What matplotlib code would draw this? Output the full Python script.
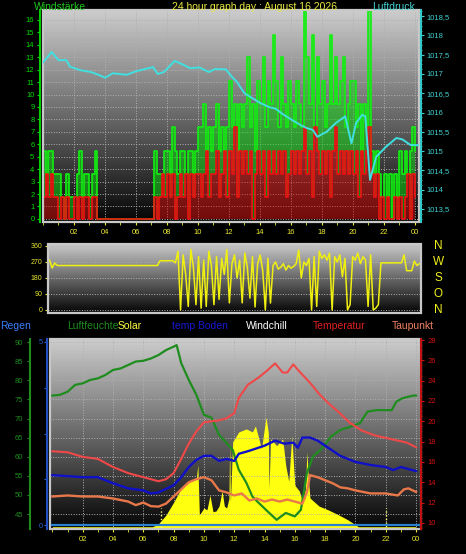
import numpy as np
import matplotlib
matplotlib.use('Agg')
import matplotlib.pyplot as plt
import matplotlib.transforms as mtransforms
from matplotlib.patches import Rectangle
from matplotlib.ticker import MultipleLocator

plt.rcParams['font.family'] = ['Liberation Sans', 'DejaVu Sans']

## Wind, 10 minute samples (km/h)
wind_hours = np.linspace(0, 24, 145)
gust = [5.5, 3.6, 5.5, 5.5, 3.6, 3.6,
        3.6, 1.8, 0, 3.6, 1.8, 1.8,
        1.8, 3.6, 5.5, 1.8, 3.6, 3.6,
        1.8, 3.6, 5.5, 0, 0, 0,
        0, 0, 0, 0, 0, 0,
        0, 0, 0, 0, 0, 0,
        0, 0, 0, 0, 0, 0,
        0, 5.5, 3.6, 3.6, 3.6, 5.5,
        5.5, 3.6, 7.4, 5.5, 3.6, 5.5,
        5.5, 3.6, 5.5, 5.5, 3.6, 5.5,
        7.4, 7.4, 9.2, 5.5, 7.4, 5.5,
        7.4, 9.2, 5.5, 7.4, 5.5, 7.4,
        11.1, 7.4, 9.2, 5.5, 9.2, 7.4,
        9.2, 13.0, 7.4, 9.2, 5.5, 11.1,
        9.2, 13.0, 7.4, 11.1, 9.2, 14.8,
        11.1, 7.4, 13.0, 9.2, 7.4, 11.1,
        9.2, 7.4, 11.1, 9.2, 7.4, 16.7,
        13.0, 9.2, 14.8, 7.4, 13.0, 9.2,
        11.1, 7.4, 9.2, 14.8, 9.2, 13.0,
        9.2, 11.1, 13.0, 7.4, 9.2, 11.1,
        11.1, 7.4, 9.2, 5.5, 9.2, 7.4,
        16.7, 5.5, 3.6, 5.5, 3.6, 1.8,
        3.6, 1.8, 3.6, 0, 3.6, 1.8,
        5.5, 3.6, 5.5, 3.6, 5.5, 7.4,
        5.5]
avg = [1.8, 3.6, 1.8, 3.6, 1.8, 1.8,
       0, 1.8, 0, 1.8, 0, 0,
       1.8, 0, 1.8, 0, 1.8, 1.8,
       0, 1.8, 1.8, 0, 0, 0,
       0, 0, 0, 0, 0, 0,
       0, 0, 0, 0, 0, 0,
       0, 0, 0, 0, 0, 0,
       0, 1.8, 0, 1.8, 3.6, 1.8,
       3.6, 1.8, 3.6, 0, 1.8, 3.6,
       1.8, 3.6, 0, 3.6, 1.8, 3.6,
       3.6, 1.8, 3.6, 5.5, 1.8, 3.6,
       3.6, 5.5, 1.8, 3.6, 5.5, 1.8,
       5.5, 3.6, 7.4, 1.8, 5.5, 3.6,
       5.5, 3.6, 5.5, 0, 3.6, 5.5,
       3.6, 5.5, 1.8, 5.5, 3.6, 5.5,
       3.6, 5.5, 3.6, 5.5, 1.8, 3.6,
       5.5, 3.6, 5.5, 3.6, 5.5, 7.4,
       3.6, 5.5, 1.8, 7.4, 5.5, 3.6,
       5.5, 3.6, 5.5, 1.8, 5.5, 7.4,
       3.6, 5.5, 3.6, 5.5, 3.6, 5.5,
       3.6, 5.5, 1.8, 5.5, 3.6, 5.5,
       7.4, 3.6, 1.8, 3.6, 0, 1.8,
       0, 1.8, 0, 0, 1.8, 0,
       1.8, 0, 1.8, 3.6, 0, 3.6,
       1.8]

## Pressure (hPa)
press_hours = [0, 0.56, 1.0, 1.5, 1.74, 2.4, 3.1, 3.7, 4.0, 4.5, 5.4, 6.0,
               7.1, 7.4, 7.8, 8.5, 9.05, 9.5, 10.1, 10.7, 11.1, 11.8, 12.2,
               12.5, 13.0, 13.4, 14.0, 14.6, 15.0, 15.5, 16.1, 16.6, 17.0,
               17.4, 17.7, 18.3, 18.9, 19.5, 19.9, 20.2, 20.6, 20.8, 21.1,
               21.5, 22.1, 22.8, 23.2, 23.7, 24.2]
pressure = [1017.3, 1017.57, 1017.36, 1017.36, 1017.19, 1017.1, 1017.05,
            1016.96, 1016.9, 1017.02, 1016.98, 1017.07, 1017.18, 1017.0,
            1017.05, 1017.34, 1017.24, 1017.15, 1017.17, 1017.05, 1017.13,
            1017.12, 1016.92, 1016.8, 1016.5, 1016.4, 1016.25, 1016.14,
            1016.1, 1015.95, 1015.8, 1015.68, 1015.6, 1015.55, 1015.37,
            1015.5, 1015.73, 1015.9, 1015.2, 1015.73, 1015.94, 1015.9,
            1014.25, 1014.85, 1015.1, 1015.34, 1015.3, 1015.16, 1015.15]

## Wind direction, 10 minute samples (degrees)
direction = [280, 236, 264, 250, 250, 250,
             250, 250, 250, 250, 250, 250,
             250, 250, 250, 250, 250, 250,
             250, 250, 250, 250, 250, 250,
             250, 250, 250, 250, 250, 250,
             250, 250, 250, 250, 250, 250,
             250, 250, 250, 250, 250, 250,
             250, 277, 277, 277, 277, 277,
             277, 265, 330, 0, 310, 200,
             20, 340, 240, 30, 300, 10,
             280, 20, 330, 250, 30, 300,
             60, 290, 200, 340, 40, 260,
             310, 180, 280, 40, 320, 240,
             67, 300, 17, 260, 310, 220,
             0, 290, 39, 250, 270, 230,
             240, 260, 225, 250, 235, 245,
             260, 337, 180, 270, 250, 290,
             0, 300, 20, 330, 290, 310,
             280, 320, 0, 300, 270, 310,
             187, 290, 0, 30, 300, 280,
             320, 260, 300, 280, 20, 310,
             0, 10, 30, 265, 265, 265,
             265, 265, 265, 265, 265, 265,
             310, 221, 221, 221, 275, 250,
             260]
dir_labels = ['N', 'W', 'S', 'O', 'N']

## Temperatures (deg C)
temp_hours = [0, 1, 2, 3, 4, 5, 6, 7, 7.5, 8, 8.5, 9, 9.5, 10, 10.5, 11,
              11.5, 12, 12.3, 12.9, 13.6, 14.1, 14.7, 15.2, 15.5, 15.9,
              16.3, 17.0, 17.6, 18.2, 18.9, 19.6, 20.4, 21.3, 22.2, 22.8,
              23.4, 24]
temperature = [17.05, 16.95, 16.5, 16.3, 15.5, 14.9, 14.5, 14.1, 14.3, 14.9,
               16.3, 17.8, 19.0, 19.9, 20.0, 20.1, 20.3, 20.8, 22.3, 23.6,
               24.3, 24.9, 25.7, 24.8, 24.8, 25.6, 24.9, 23.8, 22.7, 21.8,
               20.9, 19.9, 19.1, 18.6, 18.3, 18.1, 17.9, 17.45]
dew_hours = [0, 1, 2, 3, 4, 5, 5.5, 6, 6.5, 7, 7.5, 8, 8.5, 9, 9.5, 10, 10.5,
             11, 11.5, 12, 12.5, 13, 13.5, 14, 14.5, 15, 15.5, 16, 16.5,
             16.8, 17, 17.5, 18, 18.5, 19, 19.5, 20, 21, 22, 22.8, 23.2,
             23.5, 24]
dewpoint = [12.6, 12.7, 12.6, 12.6, 12.4, 12.1, 11.75, 12.0, 11.65, 11.6,
            11.9, 12.6, 13.3, 14.0, 14.3, 14.5, 14.2, 13.2, 13.0, 12.7, 12.9,
            12.2, 12.4, 12.1, 12.3, 12.1, 12.3, 12.1, 11.9, 13.0, 14.7, 14.5,
            14.2, 13.9, 13.5, 13.4, 13.2, 12.9, 12.9, 12.7, 13.3, 13.4, 13.05]
soil_hours = [0, 1, 2, 3, 4, 5, 6, 6.5, 7, 8, 8.5, 9, 9.5, 10, 10.5, 11,
              11.5, 12, 12.3, 13, 14, 14.7, 15.3, 15.9, 16.2, 16.5, 17,
              17.5, 18, 19, 20, 21, 22, 22.5, 23, 24]
soil_temp = [14.7, 14.6, 14.5, 14.5, 13.9, 13.4, 13.2, 12.9, 13.0, 13.7, 14.5,
             15.5, 16.2, 16.6, 16.6, 16.1, 16.3, 16.1, 16.8, 17.1, 17.6, 18.1,
             17.8, 17.9, 17.4, 18.4, 18.4, 18.1, 17.6, 16.6, 16.0, 15.7, 15.5,
             15.2, 15.5, 15.1]

## Humidity (%)
hum_hours = [0, 0.5, 1, 1.5, 2, 2.5, 3, 3.5, 4, 4.5, 5, 5.5, 6, 6.5, 7, 7.5,
             8, 8.2, 8.5, 9, 9.5, 10, 10.5, 11, 11.5, 11.9, 12.3, 12.8, 13.2,
             13.6, 14.1, 14.8, 15.4, 16, 16.4, 16.8, 17.2, 17.7, 18.4, 19,
             19.7, 20.3, 20.8, 21.4, 22.4, 22.7, 23.1, 23.8, 24]
humidity = [76.0, 76.2, 77.0, 78.8, 79.2, 80.1, 80.5, 81.4, 82.7, 83.1, 84.0,
            84.9, 85.1, 85.7, 86.6, 87.9, 88.8, 89.2, 84.5, 80.1, 76.2, 71.0,
            70.2, 65.7, 63.6, 61.8, 56.6, 53.2, 49.6, 48.0, 46.1, 43.5, 45.3,
            44.4, 46.1, 55.8, 60.1, 61.8, 65.3, 67.0, 67.9, 68.8, 71.8, 72.2,
            72.2, 74.4, 75.3, 76.0, 76.0]

## Solar radiation (W/m2) and rain (mm)
solar_hours = [0, 6.6, 7.0, 7.5, 8.0, 8.4, 8.8, 9.1, 9.5, 9.6, 9.7, 10.0,
               10.2, 10.4, 10.6, 10.8, 11.0, 11.2, 11.35, 11.5, 11.65, 11.7,
               11.75, 11.9, 12.3, 12.8, 13.2, 13.4, 13.8, 14.1, 14.25, 14.3,
               14.4, 14.8, 15.2, 15.4, 15.6, 15.8, 16.0, 16.3, 16.5, 16.7,
               16.8, 16.9, 17.0, 17.6, 18.2, 18.9, 19.5, 20.2, 24]
solar = [0, 0, 15, 63, 130, 190, 225, 242, 258, 330, 63, 100, 90, 168, 80,
         84, 110, 190, 110, 100, 150, 453, 130, 453, 505, 521, 505, 537, 416,
         584, 500, 205, 468, 432, 468, 326, 242, 484, 221, 190, 137, 200, 400,
         250, 153, 110, 90, 63, 37, 0, 0]
sun_marks = [7.2, 22.0]
rain_hours = [0, 24.3]
rain = [0, 0]

hour_labels = ['02', '04', '06', '08', '10', '12', '14', '16', '18', '20',
               '22', '00']

W, H = 466, 554
PT = 72.0 / 100  # points per pixel
YELLOW = '#e8e830'

fig = plt.figure(figsize=(W / 100, H / 100), dpi=100, facecolor='black')


def px_rect(l, t, r, b):
  return [l / W, 1 - b / H, (r - l) / W, (b - t) / H]


def add_panel(rect, top=0.80, bottom=0.02):
  bg = fig.add_axes(rect)
  bg.axis('off')
  grad = np.linspace(top, bottom, 256).reshape(-1, 1)
  bg.imshow(grad, cmap='gray', vmin=0, vmax=1, aspect='auto',
            extent=(0, 1, 0, 1), interpolation='bilinear')
  ax = fig.add_axes(rect)
  ax.set_facecolor('none')
  for s in ax.spines.values():
    s.set_visible(False)
  ax.add_patch(Rectangle((0, 0), 1, 1, transform=ax.transAxes, fill=False,
                         ec='#c8c8c8', lw=1.6, clip_on=False, zorder=20))
  return ax


def clean_twin(ax, side, color, offset_px):
  for s in ax.spines.values():
    s.set_visible(False)
  ax.spines[side].set_visible(True)
  ax.spines[side].set_color(color)
  ax.spines[side].set_linewidth(1.5)
  ax.spines[side].set_position(('outward', offset_px * PT))


def hour_axis(ax):
  ax.set_xticks(range(2, 25, 2))
  ax.set_xticklabels(hour_labels)
  ax.xaxis.set_minor_locator(MultipleLocator(1))
  ax.tick_params(axis='x', which='both', colors=YELLOW, labelsize=5.5,
                 length=2, pad=3)


## Top panel: wind speed and pressure
ax1 = add_panel(px_rect(43, 10, 419, 222))
ax1.fill_between(wind_hours, avg, gust, step='post', color='#10e010',
                 alpha=0.5, lw=0, zorder=2)
ax1.fill_between(wind_hours, 0, avg, step='post', color='#e01010',
                 alpha=0.5, lw=0, zorder=3)
ax1.step(wind_hours, gust, where='post', color='#10f010', lw=1.2, zorder=3)
ax1.step(wind_hours, avg, where='post', color='#f01010', lw=1.2, zorder=4)
ax1.set_xlim(0, 24.26)
ax1.set_ylim(-0.25, 16.8)
ax1.set_yticks(range(0, 17))
ax1.yaxis.set_minor_locator(MultipleLocator(0.25))
clean_twin(ax1, 'left', '#00cc00', 3)
ax1.tick_params(axis='y', which='both', colors='#00dd00', labelsize=5.5,
                length=2, pad=2)
ax1.tick_params(axis='y', which='minor', length=1)
hour_axis(ax1)
ax1.grid(True, color='#b0b0b0', ls=':', lw=0.7)

ax1b = ax1.twinx()
ax1b.plot(press_hours, pressure, color='#40e0e0', lw=1.4, zorder=5)
ax1b.set_ylim(1013.16, 1018.66)
press_ticks = np.arange(1013.5, 1018.6, 0.5)
ax1b.set_yticks(press_ticks)
ax1b.set_yticklabels([('%g' % v).replace('.', ',') for v in press_ticks])
ax1b.yaxis.set_minor_locator(MultipleLocator(0.125))
clean_twin(ax1b, 'right', '#30c8c8', 2)
ax1b.tick_params(axis='y', which='both', colors='#40d0d0', labelsize=5.5,
                 length=2, pad=2)
ax1b.tick_params(axis='y', which='minor', length=1)

fig.text(34 / W, 1 - 7 / H, 'Windstärke', color='#20cc20', fontsize=7.5,
         va='center', ha='left')
fig.text(172 / W, 1 - 7 / H, '24 hour graph day : August 16 2026',
         color='#e8e840', fontsize=7.5, va='center', ha='left')
fig.text(372 / W, 1 - 7 / H, 'Luftdruck', color='#40d0d0', fontsize=7.5,
         va='center', ha='left')

## Middle panel: wind direction
ax2 = add_panel(px_rect(48, 244, 421, 313))
ax2.plot(wind_hours, direction, color='#f0f010', lw=1.1)
ax2.set_xlim(-0.1, 24.1)
ax2.set_ylim(-17, 371)
ax2.set_xticks([])
ax2.set_yticks([0, 90, 180, 270, 360])
ax2.yaxis.set_minor_locator(MultipleLocator(30))
ax2.tick_params(axis='y', which='both', colors=YELLOW, labelsize=5,
                length=2, pad=2)
ax2.tick_params(axis='y', which='minor', length=1)
ax2.grid(True, axis='y', color='#b0b0b0', ls=':', lw=0.7)
trans = mtransforms.blended_transform_factory(ax2.transAxes, ax2.transData)
for v, lab in zip([360, 270, 180, 90, 0], dir_labels):
  ax2.text(1.046, v, lab, transform=trans, color='#f0f020', fontsize=8.5,
           ha='center', va='center')

## Legend row
legend_items = [(0, 'Regen', '#3a7fff'), (67, 'Luftfeuchte', '#1e8c1e'),
                (118, 'Solar', '#ffff40'), (172, 'temp Boden', '#1818d8'),
                (246, 'Windchill', 'white'), (313, 'Temperatur', '#e02020'),
                (392, 'Taupunkt', '#f08060')]
for x, lab, col in legend_items:
  fig.text(x / W, 1 - 326 / H, lab, color=col, fontsize=7.5, ha='left',
           va='center')

## Bottom panel: solar, humidity, rain, temperatures
ax3 = add_panel(px_rect(50, 339, 421, 529))
ax3.fill_between(solar_hours, -12, solar, color='#ffff10', lw=0, zorder=2)
ax3.vlines(sun_marks, 0, 100, colors='#ffff70', linestyles=':', lw=1,
           zorder=2)
ax3.set_xlim(-0.16, 24.33)
ax3.set_ylim(-12, 1000)
ax3.set_yticks([])
hour_axis(ax3)
ax3.grid(True, axis='x', color='#b0b0b0', ls=':', lw=0.7)

axh = ax3.twinx()
axh.yaxis.tick_left()
axh.plot(hum_hours, humidity, color='#1e8c1e', lw=1.6)
axh.set_ylim(41.1, 90.8)
axh.set_yticks(range(45, 91, 5))
axh.yaxis.set_minor_locator(MultipleLocator(1))
clean_twin(axh, 'left', '#1e8c1e', 20)
axh.tick_params(axis='y', which='both', colors='#1e8c1e', labelsize=5.5,
                length=2, pad=3)
axh.tick_params(axis='y', which='minor', length=1)
axh.grid(True, axis='y', color='#b0b0b0', ls=':', lw=0.7)

axr = ax3.twinx()
axr.yaxis.tick_left()
axr.plot(rain_hours, rain, color='#2a80d0', lw=1.6)
axr.set_ylim(-0.1, 5.08)
axr.set_yticks([0, 1.25, 2.5, 3.75, 5])
axr.set_yticklabels(['0', '', '', '', '5'])
clean_twin(axr, 'left', '#2050c0', 3)
axr.tick_params(axis='y', colors='#2860d0', labelsize=5.5, length=2, pad=1)

axt = ax3.twinx()
axt.plot(soil_hours, soil_temp, color='#1010c8', lw=1.7)
axt.plot(dew_hours, dewpoint, color='#e8784a', lw=1.7)
axt.plot(temp_hours, temperature, color='#f04848', lw=1.5)
axt.set_ylim(9.4, 28.1)
axt.set_yticks(range(10, 29, 2))
axt.yaxis.set_minor_locator(MultipleLocator(0.5))
clean_twin(axt, 'right', '#c01010', 0)
axt.tick_params(axis='y', which='both', colors='#d01010', labelsize=5.5,
                length=2, pad=3)
axt.tick_params(axis='y', which='minor', length=1)

fig.savefig('out.png', dpi=100, facecolor='black')
